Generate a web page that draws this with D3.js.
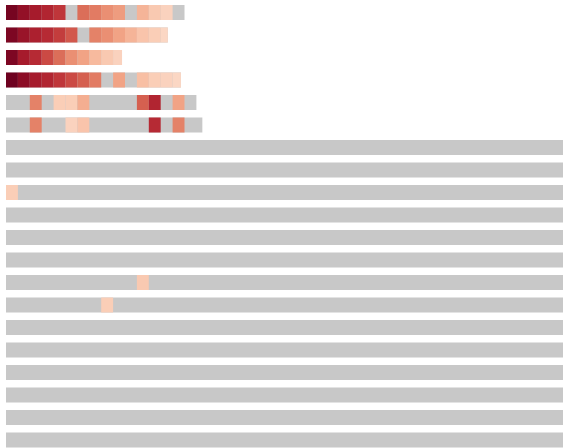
<!DOCTYPE html>
<html>
<head>
<meta charset="utf-8">
<script src="https://cdn.jsdelivr.net/npm/d3@7"></script>
<style>
  html, body { margin: 0; padding: 0; background: #fff; overflow: hidden; }
  svg { display: block; }
</style>
</head>
<body>
<script>
// Row identifiers (one horizontal strip each)
const rowNames = [
  "S01", "S02", "S03", "S04", "S05", "S06", "S07", "S08", "S09", "S10",
  "S11", "S12", "S13", "S14", "S15", "S16", "S17", "S18", "S19", "S20"
];

// Length of each strip, in periods (last period may be partial)
const rowSpans = [15, 13.6, 9.75, 14.7, 16, 16.5,
  48, 48, 48, 48, 48, 48, 48, 48, 48, 48, 48, 48, 48, 48];

// Intensity per period (null = no reading, drawn grey)
const row01 = [98, 94, 91, 89, 86, null, 78, 76, 73, 71, null, 67, 63, 61, null];
const row02 = [97, 93, 90, 88, 85, 81, null, 75, 73, 70, 67, 64, 62, 60];
const row03 = [97, 91, 88, 83, 78, 73, 70, 66, 63, 61];
const row04 = [99, 95, 91, 89, 86, 83, 80, 76, null, 70, null, 65, 62, 61, 60];
const row05 = [null, null, 75, null, 62, 62, 68, null, null, null, null, 80, 89, null, 70, null];
const row06 = [null, null, 75, null, null, 61, 64, null, null, null, null, null, 88, null, 75, null, null];
const row09 = [62];
const row13 = [null, null, null, null, null, null, null, null, null, null, null, 63];
const row14 = [null, null, null, null, null, null, null, null, 62];
const empty = [];

const rowValues = [row01, row02, row03, row04, row05, row06,
  empty, empty, row09, empty, empty, empty, row13, row14,
  empty, empty, empty, empty, empty, empty];

const W = 563, H = 448;
const cellW = 11.9;
const maxCols = d3.max(rowSpans);

const svg = d3.select("body").append("svg")
  .attr("width", W).attr("height", H);

const x = d3.scaleLinear().domain([0, maxCols]).range([6, 6 + cellW * maxCols]);
const y = d3.scaleBand().domain(rowNames).range([5, 447.5])
  .paddingInner(1 / 3).paddingOuter(0);

const color = d3.scaleSequential(d3.interpolateRdBu).domain([100, 0]);
const missing = "#c8c8c8";

const rows = svg.selectAll("g.row")
  .data(rowNames.map((name, i) => ({ name, span: rowSpans[i], values: rowValues[i] })))
  .join("g")
  .attr("class", "row")
  .attr("transform", d => `translate(0,${y(d.name)})`);

// grey base for each strip
rows.append("rect")
  .attr("x", x(0))
  .attr("width", d => x(d.span) - x(0))
  .attr("height", y.bandwidth())
  .attr("fill", missing);

// coloured periods on top
rows.selectAll("rect.cell")
  .data(d => d.values
    .map((v, i) => ({ v, i, span: d.span }))
    .filter(c => c.v != null))
  .join("rect")
  .attr("class", "cell")
  .attr("x", c => x(c.i))
  .attr("width", c => x(Math.min(c.i + 1, c.span)) - x(c.i))
  .attr("height", y.bandwidth())
  .attr("fill", c => color(c.v));
</script>
</body>
</html>
